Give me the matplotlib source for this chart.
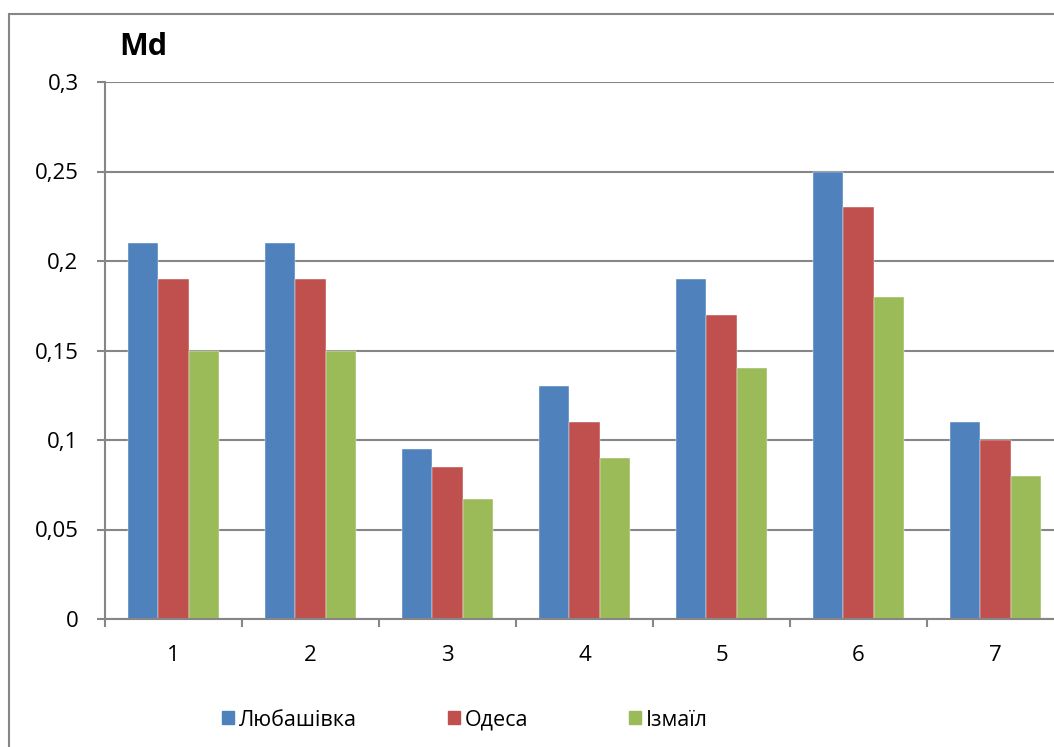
import matplotlib.pyplot as plt
from matplotlib.patches import Rectangle
import numpy as np

plt.rcParams['font.family'] = ['Open Sans', 'DejaVu Sans']

categories = ['1', '2', '3', '4', '5', '6', '7']
series_names = ['Любашівка', 'Одеса', 'Ізмаїл']
lyubashivka = [0.21, 0.21, 0.095, 0.13, 0.19, 0.25, 0.11]
odesa = [0.19, 0.19, 0.085, 0.11, 0.17, 0.23, 0.10]
izmail = [0.15, 0.15, 0.067, 0.09, 0.14, 0.18, 0.08]
yticks = [0, 0.05, 0.1, 0.15, 0.2, 0.25, 0.3]
ytick_labels = ['0', '0,05', '0,1', '0,15', '0,2', '0,25', '0,3']

colors = ['#4F81BD', '#C0504D', '#9BBB59']
grey = '#868686'

W, H = 1054, 747
fig = plt.figure(figsize=(W / 100, H / 100), dpi=100)

# outer chart frame, runs off the right and bottom edges
fig.patches.append(Rectangle((9 / W, -0.1), 1.2, 1 - 14 / H + 0.1,
                             transform=fig.transFigure, fill=False,
                             edgecolor=grey, linewidth=1.5))

ax = fig.add_axes([105 / W, 1 - 619 / H, 959 / W, 537 / H])

x = np.arange(len(categories))
bw = 0.219
for i, vals in enumerate([lyubashivka, odesa, izmail]):
    ax.bar(x + (i - 1) * bw, vals, bw, color=colors[i],
           edgecolor='white', linewidth=0.3, zorder=3)

ax.set_xlim(-0.5, len(categories) - 0.5)
ax.set_ylim(0, 0.3)
ax.set_yticks(yticks)
ax.set_yticklabels(ytick_labels, fontsize=16)
ax.set_xticks(x)
ax.set_xticklabels(categories, fontsize=16)
ax.set_xticks(np.arange(-0.5, len(categories)), minor=True)

ax.tick_params(axis='x', which='major', length=0, pad=19)
ax.tick_params(axis='x', which='minor', length=6, width=1.5, color=grey, direction='out')
ax.tick_params(axis='y', length=6, width=1.5, color=grey, direction='out', pad=13)

ax.grid(axis='y', color=grey, linewidth=1.5, zorder=0)
for s in ['top', 'right']:
    ax.spines[s].set_visible(False)
for s in ['left', 'bottom']:
    ax.spines[s].set_color(grey)
    ax.spines[s].set_linewidth(1.5)
    ax.spines[s].set_zorder(4)

fig.text(143 / W, 1 - 47 / H, 'Md', fontsize=22, fontweight='bold',
         ha='center', va='center')

# legend row along the bottom
legend_x = [222, 448, 629]
for lx, name, c in zip(legend_x, series_names, colors):
    fig.patches.append(Rectangle((lx / W, 1 - 724 / H), 12 / W, 13 / H,
                                 transform=fig.transFigure, color=c))
    fig.text((lx + 17) / W, 1 - 720 / H, name, fontsize=15.5, va='center', ha='left')

fig.savefig('out.png', dpi=100)
